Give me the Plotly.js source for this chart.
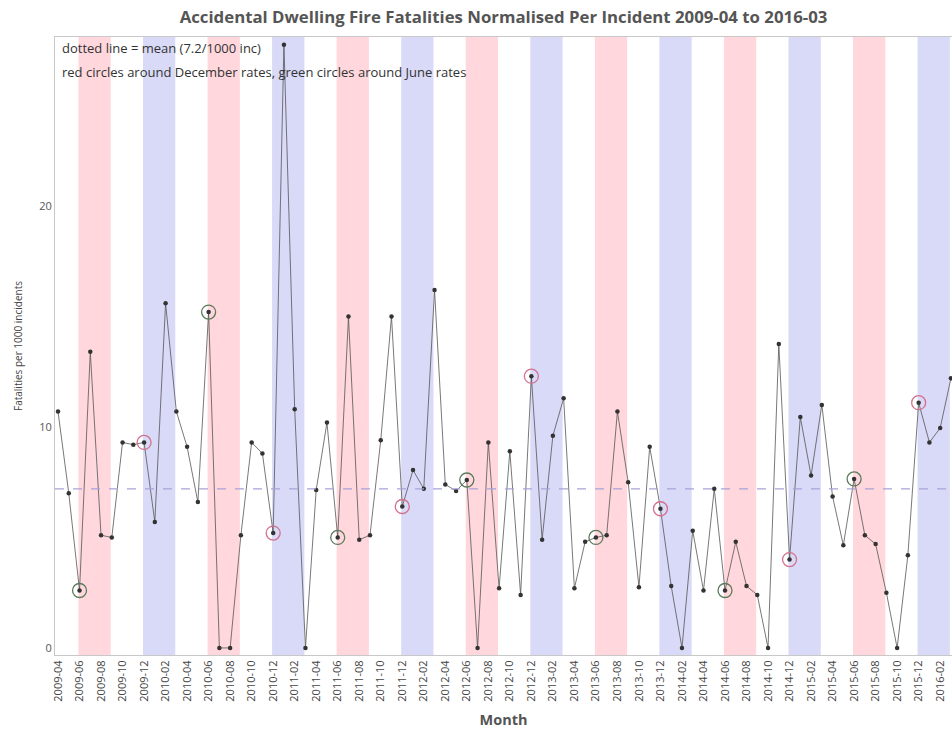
<!DOCTYPE html>
<html>
<head>
<meta charset="utf-8">
<script src="https://cdn.plot.ly/plotly-3.0.1.min.js"></script>
<style>html,body{margin:0;padding:0;background:#fff;}#chart{width:952px;height:735px;}</style>
</head>
<body>
<div id="chart"></div>
<script>
const months = [
 "2009-04","2009-05","2009-06","2009-07","2009-08","2009-09","2009-10","2009-11","2009-12",
 "2010-01","2010-02","2010-03","2010-04","2010-05","2010-06","2010-07","2010-08","2010-09","2010-10","2010-11","2010-12",
 "2011-01","2011-02","2011-03","2011-04","2011-05","2011-06","2011-07","2011-08","2011-09","2011-10","2011-11","2011-12",
 "2012-01","2012-02","2012-03","2012-04","2012-05","2012-06","2012-07","2012-08","2012-09","2012-10","2012-11","2012-12",
 "2013-01","2013-02","2013-03","2013-04","2013-05","2013-06","2013-07","2013-08","2013-09","2013-10","2013-11","2013-12",
 "2014-01","2014-02","2014-03","2014-04","2014-05","2014-06","2014-07","2014-08","2014-09","2014-10","2014-11","2014-12",
 "2015-01","2015-02","2015-03","2015-04","2015-05","2015-06","2015-07","2015-08","2015-09","2015-10","2015-11","2015-12",
 "2016-01","2016-02","2016-03"];
const rates = [
 10.7, 7.0, 2.6, 13.4, 5.1, 5.0, 9.3, 9.2, 9.3,
 5.7, 15.6, 10.7, 9.1, 6.6, 15.2, 0, 0, 5.1, 9.3, 8.8, 5.2,
 27.3, 10.8, 0, 7.15, 10.2, 5.0, 15.0, 4.9, 5.1, 9.4, 15.0, 6.4,
 8.05, 7.2, 16.2, 7.4, 7.1, 7.6, 0, 9.3, 2.7, 8.9, 2.4, 12.3,
 4.9, 9.6, 11.3, 2.7, 4.8, 5.0, 5.1, 10.7, 7.5, 2.75, 9.1, 6.3,
 2.8, 0, 5.3, 2.6, 7.2, 2.6, 4.8, 2.8, 2.4, 0, 13.75, 4.0,
 10.45, 7.8, 11.0, 6.85, 4.65, 7.65, 5.1, 4.7, 2.5, 0, 4.2, 11.1,
 9.3, 9.95, 12.2];
const meanRate = 7.2;
const tickLabels = months.filter((m, i) => i % 2 === 0);
const noteLines = ["dotted line = mean (7.2/1000 inc)",
                   "red circles around December rates, green circles around June rates"];

const decX = [], decY = [], junX = [], junY = [];
months.forEach((m, i) => {
  if (m.endsWith("-12")) { decX.push(m); decY.push(rates[i]); }
  if (m.endsWith("-06")) { junX.push(m); junY.push(rates[i]); }
});

const shapes = [];
months.forEach((m, i) => {
  if (m.endsWith("-06") || m.endsWith("-12")) {
    shapes.push({type: "rect", xref: "x", yref: "paper", layer: "below",
      x0: i - 0.1, x1: i + 2.9, y0: 0, y1: 1, line: {width: 0},
      fillcolor: m.endsWith("-06") ? "#ffd7dc" : "#d9d9f8"});
  }
});
shapes.push({type: "line", xref: "paper", yref: "y", x0: 0, x1: 1, y0: meanRate, y1: meanRate,
  line: {color: "#a9a3d8", width: 1.3, dash: "dash"}});

const traces = [
  {x: months, y: rates, type: "scatter", mode: "lines+markers",
   line: {color: "#555", width: 0.8}, marker: {color: "#333", size: 4.5}, hoverinfo: "x+y"},
  {x: decX, y: decY, type: "scatter", mode: "markers",
   marker: {symbol: "circle-open", size: 14, color: "#d4708c", line: {width: 1.3}}},
  {x: junX, y: junY, type: "scatter", mode: "markers",
   marker: {symbol: "circle-open", size: 14, color: "#5a7a5a", line: {width: 1.3}}}
];

const layout = {
  width: 952, height: 735,
  margin: {l: 55, r: 0, t: 37, b: 80},
  paper_bgcolor: "#fff", plot_bgcolor: "#fff",
  showlegend: false,
  font: {family: "Open Sans, Noto Sans, sans-serif", color: "#444"},
  title: {text: "<b>Accidental Dwelling Fire Fatalities Normalised Per Incident 2009-04 to 2016-03</b>",
          font: {size: 16.8, color: "#555"}, x: 0.5, xref: "paper", y: 0.977, yanchor: "middle"},
  xaxis: {type: "category", categoryorder: "array", categoryarray: months,
          range: [-0.28, 83.1], tickvals: tickLabels, ticktext: tickLabels, tickangle: -90,
          tickfont: {size: 11, color: "#444"}, showgrid: false, zeroline: false,
          showline: true, mirror: true, linecolor: "#c8c8c8", linewidth: 1, ticks: "",
          title: {text: "<b>Month</b>", font: {size: 14.5, color: "#555"}, standoff: 14}},
  yaxis: {range: [-0.32, 27.65], tickvals: [0, 10, 20], showgrid: false, zeroline: false,
          showline: true, mirror: true, linecolor: "#c8c8c8", linewidth: 1, ticks: "",
          tickfont: {size: 11, color: "#555"},
          title: {text: "Fatalities per 1000 incidents", font: {size: 10, color: "#444"}, standoff: 14}},
  shapes: shapes,
  annotations: [
    {text: noteLines[0], xref: "paper", yref: "paper", x: 0.006, y: 0.982, xanchor: "left", yanchor: "middle",
     showarrow: false, font: {size: 13, color: "#333"}},
    {text: noteLines[1], xref: "paper", yref: "paper", x: 0.006, y: 0.943, xanchor: "left", yanchor: "middle",
     showarrow: false, font: {size: 13, color: "#333"}}
  ]
};
Plotly.newPlot("chart", traces, layout, {displayModeBar: false, staticPlot: true});
</script>
</body>
</html>
